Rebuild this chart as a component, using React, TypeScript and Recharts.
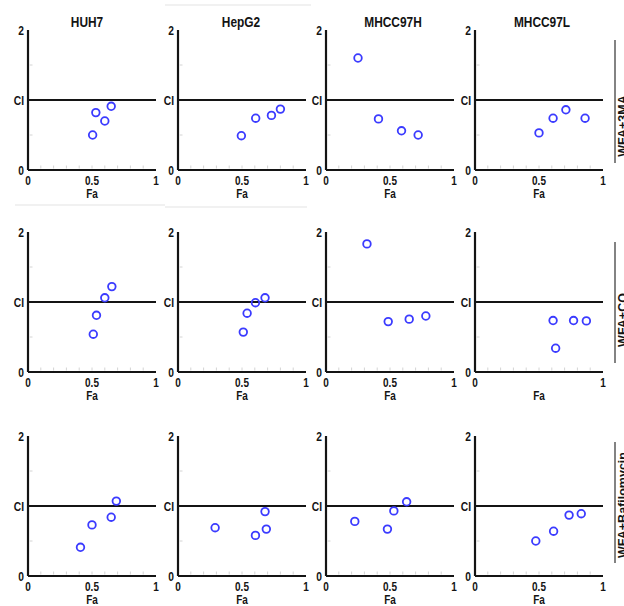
import React from "react";
import { ScatterChart, Scatter, XAxis, YAxis, ReferenceLine } from "recharts";

const FONT = "'Liberation Sans', Arial, Helvetica, sans-serif";
const INK = "#141414";
const DOT = "#3b3bff";

const cellLines = ["HUH7", "HepG2", "MHCC97H", "MHCC97L"];
const treatments = ["WFA+3MA", "WFA+CQ", "WFA+Bafilomycin"];

// minor tick positions on the Fa axis, labels only at 0 / 0.5 / 1
const faTicks = [0, 0.1, 0.2, 0.3, 0.4, 0.5, 0.6, 0.7, 0.8, 0.9, 1];
const faLabelValues = [0, 0.5, 1];
const faLabels = ["0", "0.5", "1"];
const ciTicks = [0, 0.5, 1, 1.5, 2];
const ciLabelValues = [0, 1, 2];
const ciLabels = ["0", "CI", "2"];

// Fa / CI per cell line, order HUH7, HepG2, MHCC97H, MHCC97L
const fa3MA = [
  [0.505, 0.53, 0.6, 0.65],
  [0.495, 0.607, 0.73, 0.8],
  [0.25, 0.41, 0.59, 0.72],
  [0.5, 0.61, 0.71, 0.86],
];
const ci3MA = [
  [0.5, 0.82, 0.7, 0.91],
  [0.49, 0.74, 0.78, 0.87],
  [1.6, 0.73, 0.56, 0.5],
  [0.53, 0.74, 0.86, 0.74],
];
const faCQ = [
  [0.51, 0.535, 0.6, 0.655],
  [0.51, 0.54, 0.605, 0.68],
  [0.32, 0.486, 0.65, 0.78],
  [0.61, 0.63, 0.77, 0.87],
];
const ciCQ = [
  [0.54, 0.81, 1.06, 1.22],
  [0.57, 0.84, 0.99, 1.06],
  [1.83, 0.72, 0.755, 0.8],
  [0.735, 0.34, 0.735, 0.73],
];
const faBaf = [
  [0.41, 0.5, 0.65, 0.69],
  [0.29, 0.605, 0.68, 0.69],
  [0.225, 0.48, 0.53, 0.63],
  [0.475, 0.614, 0.735, 0.83],
];
const ciBaf = [
  [0.41, 0.73, 0.84, 1.07],
  [0.69, 0.58, 0.92, 0.67],
  [0.78, 0.67, 0.93, 1.06],
  [0.5, 0.64, 0.87, 0.89],
];

const rowsFa = [fa3MA, faCQ, faBaf];
const rowsCi = [ci3MA, ciCQ, ciBaf];

// layout of the plot boxes on the page
const colX = [27.5, 177.5, 325.7, 475];
const rowZeroY = [170, 372, 575.5];
const PLOT_W = 128;
const Y_AXIS_W = 27;

function FaTick(props: any) {
  const { x, y, payload, hideHalf } = props;
  const v = payload.value;
  const idx = faLabelValues.findIndex((l) => Math.abs(l - v) < 1e-6);
  const show = idx >= 0 && !(hideHalf && idx === 1);
  return (
    <g>
      {v > 0.01 && v < 0.99 && (
        <line x1={x} x2={x} y1={y - 1.5} y2={y - 4.5} stroke="#d4d4d4" strokeWidth={1} />
      )}
      {show && (
        <text
          transform={`translate(${x},${y + 15}) scale(0.8,1)`}
          textAnchor="middle"
          fontFamily={FONT}
          fontWeight={700}
          fontSize={12.5}
          fill={INK}
        >
          {faLabels[idx]}
        </text>
      )}
    </g>
  );
}

function CiTick(props: any) {
  const { x, y, payload } = props;
  const v = payload.value;
  const idx = ciLabelValues.findIndex((l) => Math.abs(l - v) < 1e-6);
  if (idx < 0) {
    return <line x1={x + 1.5} x2={x + 4.5} y1={y} y2={y} stroke="#d4d4d4" strokeWidth={1} />;
  }
  return (
    <text
      transform={`translate(${x - 4},${y + 4.5}) scale(0.82,1)`}
      textAnchor="end"
      fontFamily={FONT}
      fontWeight={700}
      fontSize={12.5}
      fill={INK}
    >
      {ciLabels[idx]}
    </text>
  );
}

function FaLabel(props: any) {
  const vb = props.viewBox || {};
  const cx = vb.x + vb.width / 2;
  return (
    <text
      transform={`translate(${cx},${vb.y + 28}) scale(0.8,1)`}
      textAnchor="middle"
      fontFamily={FONT}
      fontWeight={700}
      fontSize={12.5}
      fill={INK}
    >
      Fa
    </text>
  );
}

function OpenCircle(props: any) {
  return <circle cx={props.cx} cy={props.cy} r={3.8} fill="none" stroke={DOT} strokeWidth={1.8} />;
}

function Panel({ fa, ci, left, top, hideHalf }: { fa: number[]; ci: number[]; left: number; top: number; hideHalf: boolean }) {
  const data = fa.map((f, i) => ({ fa: f, ci: ci[i] }));
  return (
    <div style={{ position: "absolute", left, top }}>
      <ScatterChart width={Y_AXIS_W + PLOT_W + 5} height={184} margin={{ top: 10, right: 5, bottom: 0, left: 0 }}>
        <XAxis
          type="number"
          dataKey="fa"
          domain={[0, 1]}
          ticks={faTicks}
          interval={0}
          height={34}
          tickSize={0}
          tickMargin={0}
          tickLine={false}
          axisLine={{ stroke: INK, strokeWidth: 2.2 }}
          tick={(p: any) => <FaTick {...p} hideHalf={hideHalf} />}
          label={{ content: (p: any) => <FaLabel {...p} /> }}
          allowDataOverflow
        />
        <YAxis
          type="number"
          dataKey="ci"
          domain={[0, 2]}
          ticks={ciTicks}
          interval={0}
          width={Y_AXIS_W}
          tickSize={0}
          tickMargin={0}
          tickLine={false}
          axisLine={{ stroke: INK, strokeWidth: 2.2 }}
          tick={(p: any) => <CiTick {...p} />}
          allowDataOverflow
        />
        <ReferenceLine y={1} stroke={INK} strokeWidth={2} />
        <Scatter data={data} shape={OpenCircle} isAnimationActive={false} />
      </ScatterChart>
    </div>
  );
}

const titleX = [87, 241, 393, 542];
const rowLabelY = [126, 320, 505];
const rowLineSpan = [
  [40, 163],
  [242, 363],
  [442, 563],
];

export default function App() {
  return (
    <div
      style={{
        position: "absolute",
        left: 0,
        top: 0,
        width: 624,
        height: 606,
        overflow: "hidden",
        background: "#fff",
      }}
    >
      {rowsFa.map((rowFa, r) =>
        rowFa.map((fa, c) => (
          <Panel
            key={`${r}-${c}`}
            fa={fa}
            ci={rowsCi[r][c]}
            left={colX[c] - Y_AXIS_W}
            top={rowZeroY[r] - 150}
            hideHalf={r === 1 && c === 3}
          />
        ))
      )}
      <svg
        width={624}
        height={606}
        style={{ position: "absolute", left: 0, top: 0, pointerEvents: "none" }}
      >
        {/* faint scan edges */}
        <line x1={165} x2={311} y1={5} y2={5} stroke="#ececec" strokeWidth={1.5} />
        <line x1={15} x2={165} y1={205} y2={205} stroke="#ececec" strokeWidth={1.5} />
        <line x1={165} x2={307} y1={207} y2={207} stroke="#ececec" strokeWidth={1.5} />
        {cellLines.map((name, i) => (
          <text
            key={name}
            transform={`translate(${titleX[i]},27) scale(0.85,1)`}
            textAnchor="middle"
            fontFamily={FONT}
            fontWeight={700}
            fontSize={14}
            fill={INK}
          >
            {name}
          </text>
        ))}
        {treatments.map((t, i) => (
          <g key={t}>
            <line
              x1={615}
              x2={615}
              y1={rowLineSpan[i][0]}
              y2={rowLineSpan[i][1]}
              stroke="#5a5a5a"
              strokeWidth={1.5}
            />
            <text
              transform={`translate(627,${rowLabelY[i]}) rotate(-90)`}
              textAnchor="middle"
              fontFamily={FONT}
              fontWeight={700}
              fontSize={12.5}
              fill={INK}
            >
              {t}
            </text>
          </g>
        ))}
      </svg>
    </div>
  );
}
